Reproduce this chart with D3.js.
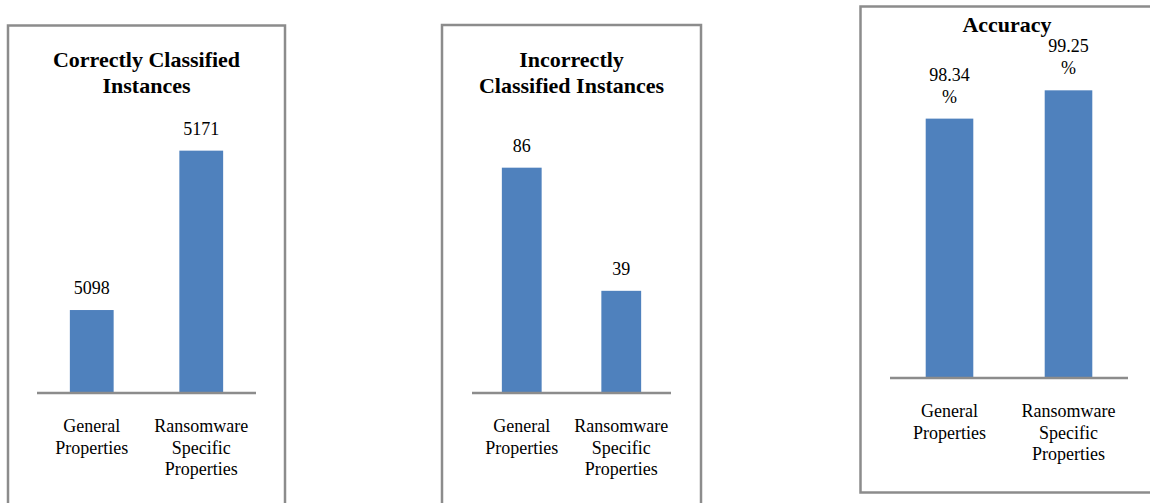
<!DOCTYPE html>
<html>
<head>
<meta charset="utf-8">
<script src="https://cdn.jsdelivr.net/npm/d3@7"></script>
<style>
  html, body { margin: 0; padding: 0; background: #fff; }
  svg { display: block; }
  text, tspan { font-family: "Liberation Serif", "Times New Roman", Times, serif; fill: #000; }
</style>
</head>
<body>
<svg id="chart" width="1150" height="503"></svg>
<script>
// ---- data ----
const categories = [["General", "Properties"], ["Ransomware", "Specific", "Properties"]];
const correctTitle = ["Correctly Classified", "Instances"];
const correctValues = [5098, 5171];
const correctLabels = [["5098"], ["5171"]];
const correctDomain = [5060, 5180];

const incorrectTitle = ["Incorrectly", "Classified Instances"];
const incorrectValues = [86, 39];
const incorrectLabels = [["86"], ["39"]];
const incorrectDomain = [0, 100];

const accuracyTitle = ["Accuracy"];
const accuracyValues = [98.34, 99.25];
const accuracyLabels = [["98.34", "%"], ["99.25", "%"]];
const accuracyDomain = [90, 100];

// ---- layout ----
const FONT = "'Liberation Serif', 'Times New Roman', Times, serif";
const svg = d3.select("#chart");
const BAR = "#4F81BD";
const GREY = "#8c8c8c";

const panels = [
  { title: correctTitle, values: correctValues, labels: correctLabels, domain: correctDomain,
    box: [8, 25.5, 285, 530], titleX: 146.5, titleY: 67,
    x0: 37, x1: 256, yBase: 393, yTop: 131 },
  { title: incorrectTitle, values: incorrectValues, labels: incorrectLabels, domain: incorrectDomain,
    box: [442, 25, 701, 530], titleX: 571.5, titleY: 67,
    x0: 472, x1: 671, yBase: 393, yTop: 131 },
  { title: accuracyTitle, values: accuracyValues, labels: accuracyLabels, domain: accuracyDomain,
    box: [860.5, 6.5, 1160, 492.5], titleX: 1007, titleY: 32,
    x0: 890, x1: 1128, yBase: 378, yTop: 67 }
];

panels.forEach(p => {
  const g = svg.append("g");
  // border
  g.append("rect")
    .attr("x", p.box[0]).attr("y", p.box[1])
    .attr("width", p.box[2] - p.box[0]).attr("height", p.box[3] - p.box[1])
    .attr("fill", "none").attr("stroke", GREY).attr("stroke-width", 2.5);

  // title
  const t = g.append("text")
    .attr("x", p.titleX).attr("y", p.titleY)
    .attr("text-anchor", "middle")
    .attr("font-family", FONT)
    .style("font-size", "22px").style("font-weight", "bold");
  p.title.forEach((line, i) => {
    t.append("tspan").attr("x", p.titleX).attr("dy", i === 0 ? 0 : 26).text(line);
  });

  const names = categories.map(c => c.join(" "));
  const x = d3.scaleBand().domain(names).range([p.x0, p.x1])
    .paddingInner(0.6).paddingOuter(0.3);
  const y = d3.scaleLinear().domain(p.domain).range([p.yBase, p.yTop]);

  const data = names.map((n, i) => ({ name: n, lines: categories[i], value: p.values[i], label: p.labels[i] }));

  // bars
  g.selectAll("rect.bar").data(data).join("rect")
    .attr("class", "bar")
    .attr("x", d => x(d.name))
    .attr("width", x.bandwidth())
    .attr("y", d => y(d.value))
    .attr("height", d => p.yBase - y(d.value))
    .attr("fill", BAR);

  // baseline axis
  const axis = d3.axisBottom(x).tickSize(0).tickFormat("");
  const ax = g.append("g").attr("transform", `translate(0,${p.yBase})`).call(axis);
  ax.attr("font-family", null);
  ax.select(".domain").attr("stroke", GREY).attr("stroke-width", 2.5)
    .attr("d", `M${p.x0},0H${p.x1}`);
  ax.selectAll(".tick").remove();

  // value labels
  g.selectAll("text.val").data(data).join("text")
    .attr("class", "val")
    .attr("text-anchor", "middle")
    .attr("font-family", FONT)
    .style("font-size", "18px")
    .each(function(d) {
      const el = d3.select(this);
      const cx = x(d.name) + x.bandwidth() / 2;
      const n = d.label.length;
      const yb = y(d.value) - 16 - (n - 1) * 22;
      el.attr("x", cx).attr("y", yb);
      d.label.forEach((s, i) => el.append("tspan").attr("x", cx).attr("dy", i === 0 ? 0 : 22).text(s));
    });

  // category labels
  g.selectAll("text.cat").data(data).join("text")
    .attr("class", "cat")
    .attr("text-anchor", "middle")
    .attr("font-family", FONT)
    .style("font-size", "18px")
    .each(function(d) {
      const el = d3.select(this);
      const cx = x(d.name) + x.bandwidth() / 2;
      el.attr("x", cx).attr("y", p.yBase + 39);
      d.lines.forEach((s, i) => el.append("tspan").attr("x", cx).attr("dy", i === 0 ? 0 : 21.5).text(s));
    });
});
</script>
</body>
</html>
